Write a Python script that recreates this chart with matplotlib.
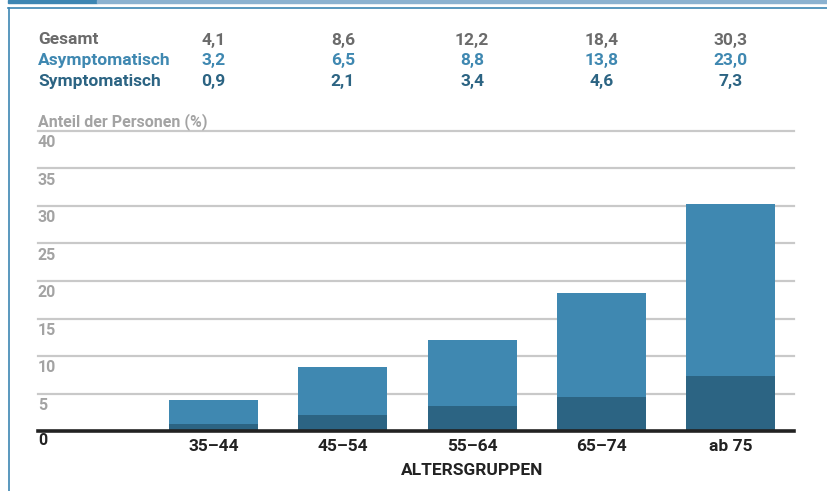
import matplotlib.pyplot as plt
import numpy as np
from matplotlib.lines import Line2D
from matplotlib.patches import Rectangle

plt.rcParams['font.family'] = ['Roboto', 'DejaVu Sans']

# data
groups = ['35–44', '45–54', '55–64', '65–74', 'ab 75']
asymptomatic = [3.2, 6.5, 8.8, 13.8, 23.0]
symptomatic = [0.9, 2.1, 3.4, 4.6, 7.3]
total = [4.1, 8.6, 12.2, 18.4, 30.3]
yticks = [5, 10, 15, 20, 25, 30, 35, 40]

c_light = '#3f88b1'
c_dark = '#2c6483'
c_gray = '#6b6b6b'
c_tick = '#a3a3a3'

W, H = 828, 491
fig = plt.figure(figsize=(W / 100, H / 100), dpi=100)

# frame decoration
fig.add_artist(Rectangle((8 / W, 1 - 3 / H), 89 / W, 3 / H, color='#3d86b3', transform=fig.transFigure))
fig.add_artist(Rectangle((97 / W, 1 - 3 / H), 731 / W, 3 / H, color='#8cb2d0', transform=fig.transFigure))
fig.add_artist(Line2D([8 / W, 1], [1 - 7.5 / H] * 2, color='#3d86b3', lw=1.2, transform=fig.transFigure))
fig.add_artist(Line2D([8.5 / W] * 2, [0, 1 - 7.5 / H], color='#3d86b3', lw=1.2, transform=fig.transFigure))

ax = fig.add_axes([38 / W, 60 / H, (794 - 38) / W, 300 / H])
x = np.arange(len(groups))
ax.set_xlim(-1.358, 4.49)
ax.set_ylim(0, 40)

for t in yticks:
    ax.axhline(t, color='#c9c9c9', lw=1.6, zorder=0, clip_on=False)
    ax.annotate(str(t), (0, t), xycoords=('axes fraction', 'data'), xytext=(0, -8.5),
                textcoords='offset points', ha='left', va='center', fontsize=11.5,
                fontweight='bold', color=c_tick)
ax.axhline(0, color='#222222', lw=2.6, zorder=3, clip_on=False)
ax.annotate('0', (0, 0), xycoords=('axes fraction', 'data'), xytext=(0, -7),
            textcoords='offset points', ha='left', va='center', fontsize=11.5,
            fontweight='bold', color='#222222')

w = 0.69
ax.bar(x, symptomatic, w, color=c_dark, zorder=2)
ax.bar(x, asymptomatic, w, bottom=symptomatic, color=c_light, zorder=2)

for s in ax.spines.values():
    s.set_visible(False)
ax.set_yticks([])
ax.set_xticks(x)
ax.set_xticklabels(groups, fontsize=12.5, fontweight='bold', color='#222222')
ax.tick_params(axis='x', length=0, pad=6)
ax.annotate('ALTERSGRUPPEN', (x.mean(), 0), xycoords=('data', 'axes fraction'),
            xytext=(0, -28.5), textcoords='offset points', ha='center', va='center',
            fontsize=12.5, fontweight='bold', color='#222222')

ax.text(0, 40 + 9 / 7.5, 'Anteil der Personen (%)', transform=ax.get_yaxis_transform(),
        ha='left', va='center', fontsize=11.5, fontweight='bold', color=c_tick)

# value table above the chart
rows = [('Gesamt', total, c_gray), ('Asymptomatisch', asymptomatic, c_light),
        ('Symptomatisch', symptomatic, c_dark)]
for i, (name, vals, col) in enumerate(rows):
    yy = 1 - (40 + i * 20.5) / H
    fig.text(38 / W, yy, name, ha='left', va='center', fontsize=12.5, fontweight='bold', color=col)
    for xi, v in zip(x, vals):
        xf = ax.transData.transform((xi, 0))[0] / W
        fig.text(xf, yy, f'{v:.1f}'.replace('.', ','), ha='center', va='center',
                 fontsize=12.5, fontweight='bold', color=col)

fig.savefig('out.png', dpi=100)
